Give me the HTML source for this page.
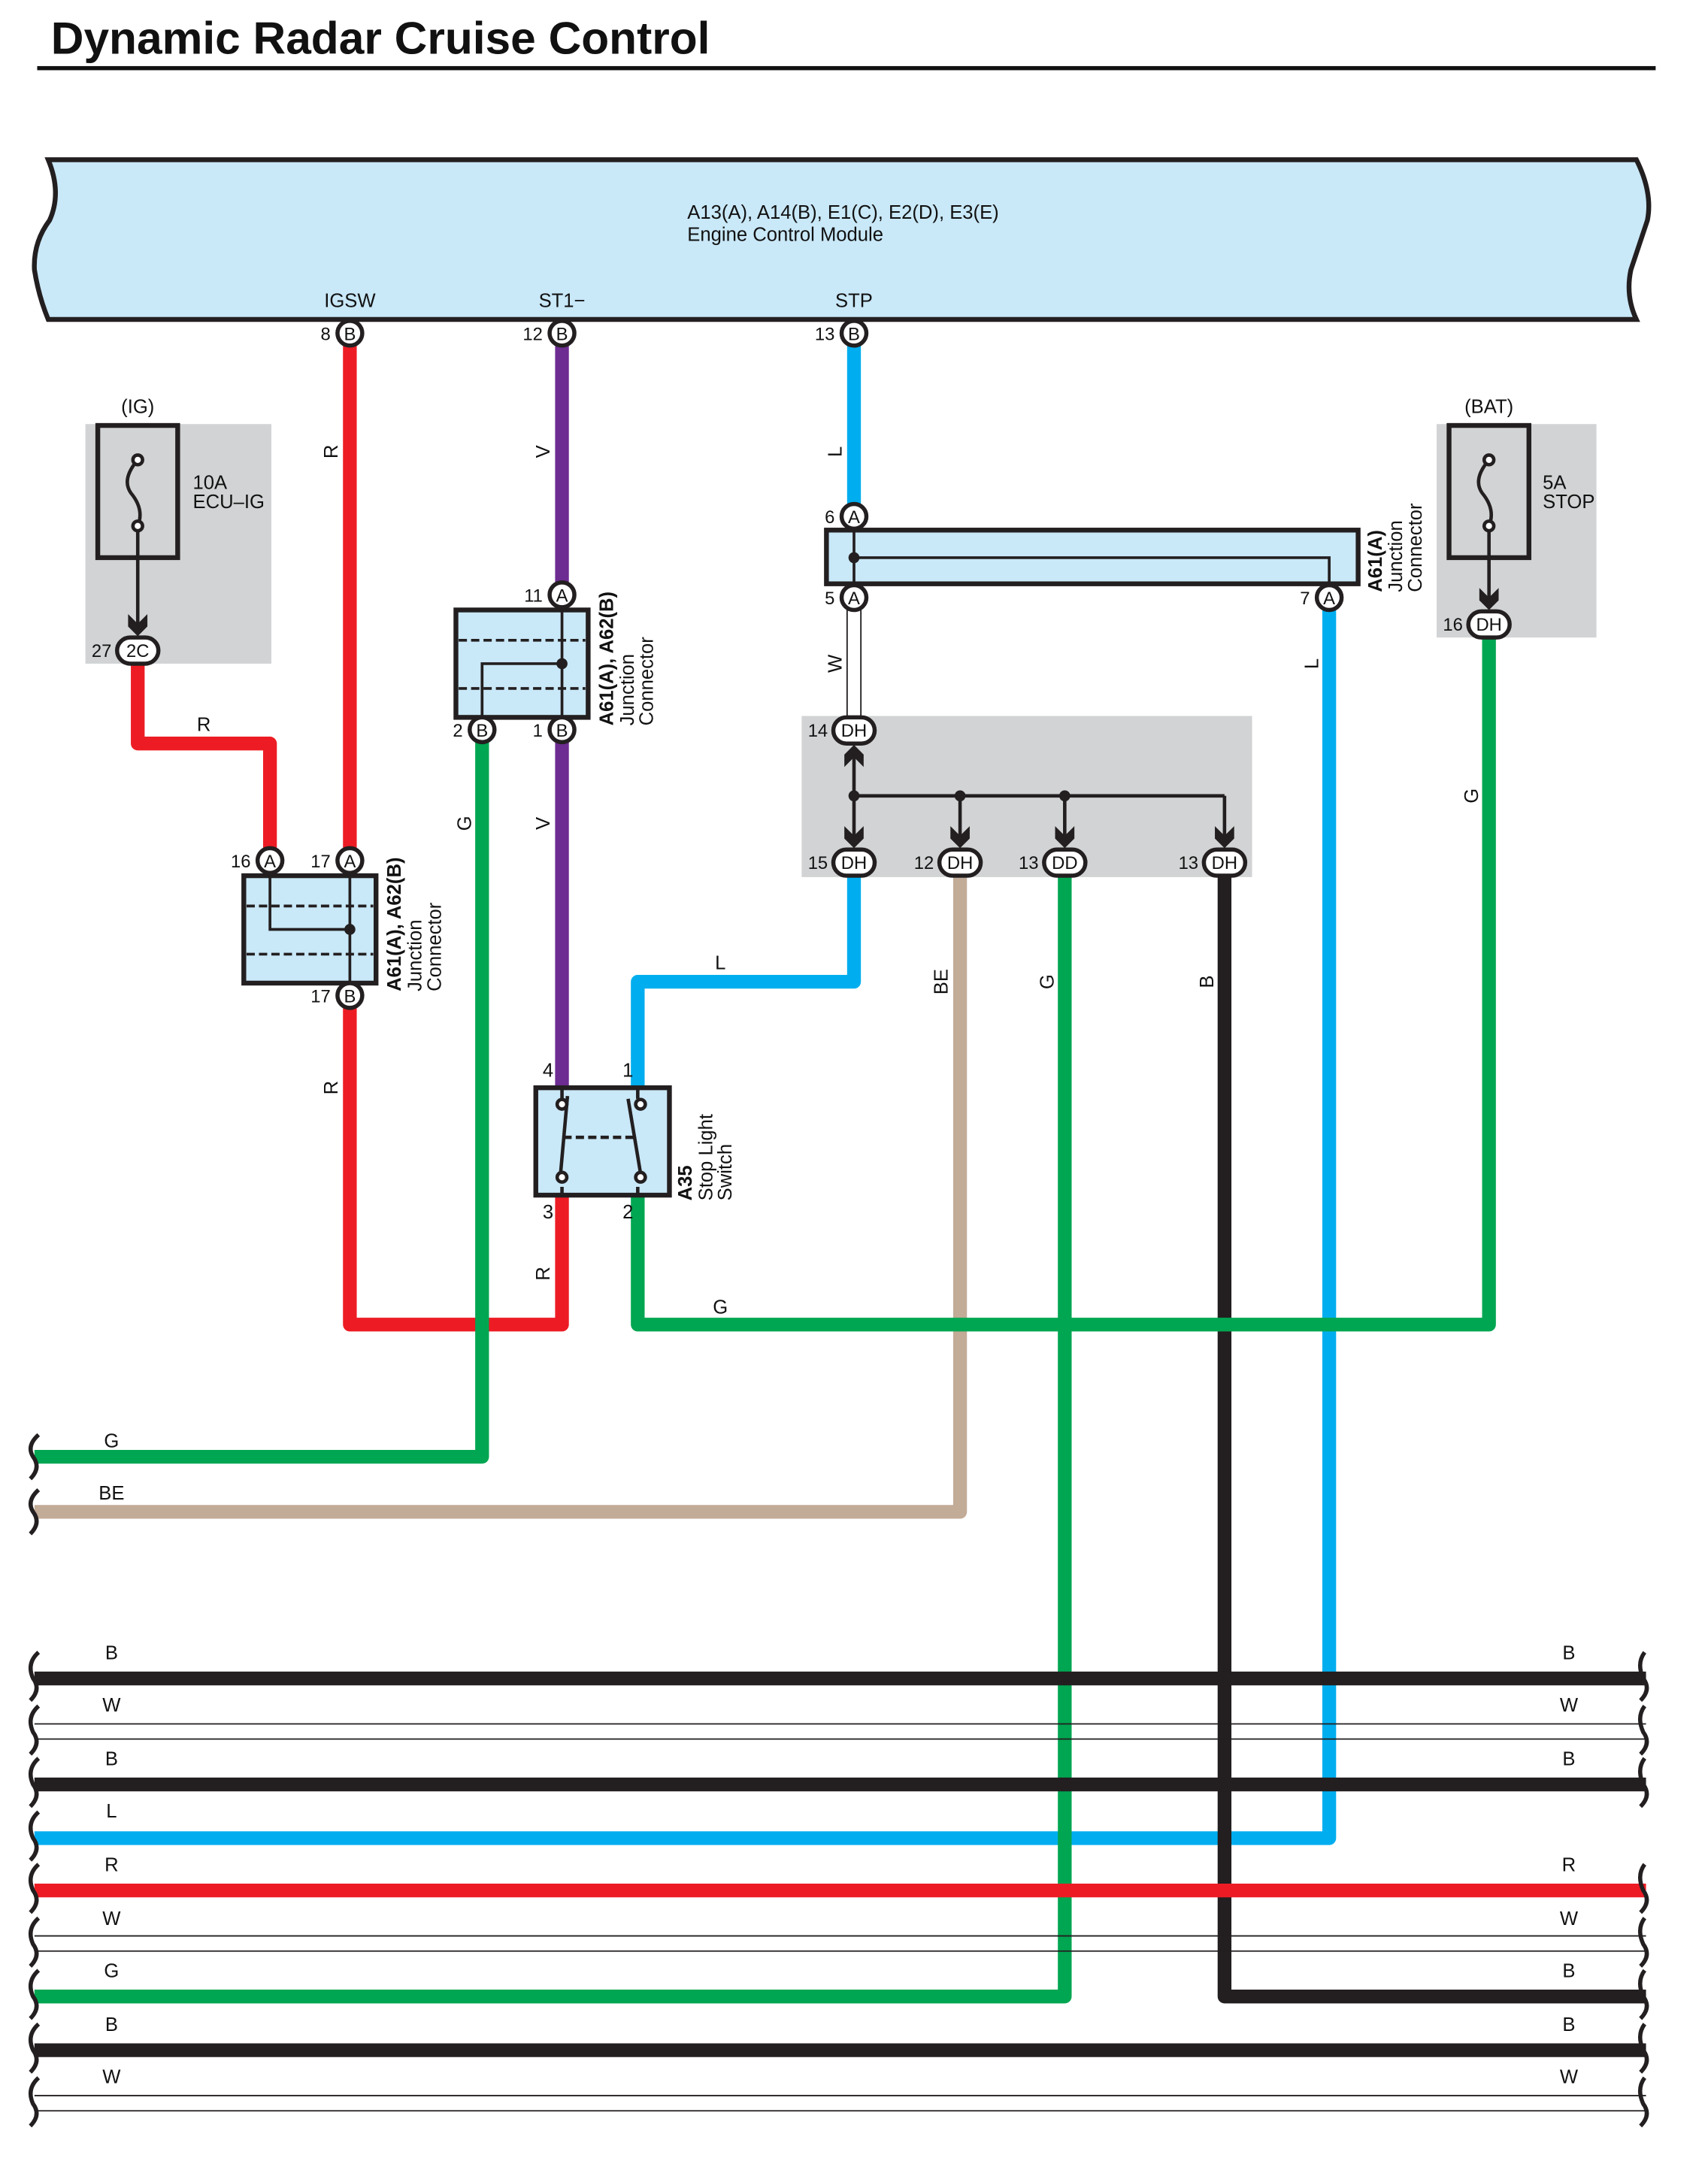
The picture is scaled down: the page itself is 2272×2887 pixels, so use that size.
<!DOCTYPE html>
<html><head><meta charset="utf-8"><style>html,body{margin:0;padding:0;background:#fff}svg{display:block}</style></head><body>
<svg xmlns="http://www.w3.org/2000/svg" width="2272" height="2887" viewBox="0 0 1240 1576" preserveAspectRatio="none" font-family="Liberation Sans, sans-serif">
<rect width="1240" height="1576" fill="#fff"/>
<text x="37" y="39" font-size="33" font-weight="bold" fill="#111">Dynamic Radar Cruise Control</text>
<rect x="27" y="48" width="1175" height="3" fill="#111"/>
<!-- ECM -->
<path d="M35,116 L1188,116 Q1200,140 1196,160 Q1190,178 1184,196 Q1180,215 1188,232 L35,232 Q28,215 25,196 Q24,176 36,160 Q45,140 35,116Z" fill="#c9e8f8" stroke="#231f20" stroke-width="3.5"/>
<text x="499" y="159" font-size="14" fill="#111">A13(A), A14(B), E1(C), E2(D), E3(E)</text>
<text x="499" y="175" font-size="14" fill="#111">Engine Control Module</text>
<g font-size="14" fill="#111" text-anchor="middle"><text x="254" y="223">IGSW</text><text x="408" y="223">ST1−</text><text x="620" y="223">STP</text></g>
<!-- gray regions -->
<rect x="62" y="308" width="135" height="174" fill="#d1d3d4"/>
<rect x="1043" y="308" width="116" height="155" fill="#d1d3d4"/>
<rect x="582" y="520" width="327" height="117" fill="#d1d3d4"/>
<!-- wires -->
<g fill="none" stroke-width="10" stroke-linejoin="round">
<path d="M254,242 V962 H408 V868" stroke="#ed1c24"/>
<path d="M100,472 V540 H196 V625" stroke="#ed1c24"/>
<path d="M408,242 V432 M408,530 V790" stroke="#6d2c91"/>
<path d="M620,242 V375" stroke="#00aeef"/>
<path d="M620,626 V713 H463 V790" stroke="#00aeef"/>
<path d="M965,434 V1335 H25" stroke="#00aeef"/>
<path d="M697,626 V1098 H25" stroke="#c2ab97"/>
<path d="M773,626 V1450 H25" stroke="#00a651"/>
<path d="M889,626 V1450 H1195" stroke="#231f20"/>
<path d="M350,530 V1058 H25" stroke="#00a651"/>
<path d="M463,868 V962 H1081 V453" stroke="#00a651"/>
<path d="M25,1219 H1195 M25,1296 H1195 M25,1489 H1195" stroke="#231f20"/>
<path d="M25,1373 H1195" stroke="#ed1c24"/>
</g>
<g stroke="#231f20" stroke-width="1">
<path d="M615,434 V530 M625,434 V530"/>
<path d="M25,1252 H1195 M25,1263 H1195 M25,1406 H1195 M25,1417 H1195 M25,1522 H1195 M25,1533 H1195"/>
</g>
<!-- wavy breaks -->
<g fill="none" stroke="#231f20" stroke-width="3">
<path d="M28,1042 q-9,8 -4,16 q6,8 -2,16 M28,1082 q-9,8 -4,16 q6,8 -2,16"/>
<path d="M28,1200 q-9,8 -4,19 q6,8 -2,16 M28,1239 q-9,8 -4,19 q6,8 -2,16 M28,1277 q-9,8 -4,19 q6,8 -2,16 M28,1316 q-9,8 -4,19 q6,8 -2,16 M28,1354 q-9,8 -4,19 q6,8 -2,16 M28,1393 q-9,8 -4,19 q6,8 -2,16 M28,1431 q-9,8 -4,19 q6,8 -2,16 M28,1470 q-9,8 -4,19 q6,8 -2,16 M28,1509 q-9,8 -4,19 q6,8 -2,16"/>
<path d="M1194,1200 q-6,8 -1,19 q6,8 -2,16 M1194,1239 q-6,8 -1,19 q6,8 -2,16 M1194,1277 q-6,8 -1,19 q6,8 -2,16 M1194,1354 q-6,8 -1,19 q6,8 -2,16 M1194,1393 q-6,8 -1,19 q6,8 -2,16 M1194,1431 q-6,8 -1,19 q6,8 -2,16 M1194,1470 q-6,8 -1,19 q6,8 -2,16 M1194,1509 q-6,8 -1,19 q6,8 -2,16"/>
</g>
<!-- bottom labels -->
<g font-size="14" fill="#111" text-anchor="middle">
<text x="81" y="1205">B</text><text x="81" y="1243">W</text><text x="81" y="1282">B</text><text x="81" y="1320">L</text><text x="81" y="1359">R</text><text x="81" y="1398">W</text><text x="81" y="1436">G</text><text x="81" y="1475">B</text><text x="81" y="1513">W</text>
<text x="1139" y="1205">B</text><text x="1139" y="1243">W</text><text x="1139" y="1282">B</text><text x="1139" y="1359">R</text><text x="1139" y="1398">W</text><text x="1139" y="1436">B</text><text x="1139" y="1475">B</text><text x="1139" y="1513">W</text>
<text x="81" y="1051">G</text><text x="81" y="1089">BE</text>
<text x="148" y="531">R</text><text x="523" y="704">L</text><text x="523" y="954">G</text>
</g>
<!-- rotated wire labels -->
<g font-size="14" fill="#111" text-anchor="middle">
<text transform="translate(245,328) rotate(-90)">R</text>
<text transform="translate(399,328) rotate(-90)">V</text>
<text transform="translate(611,328) rotate(-90)">L</text>
<text transform="translate(611,482) rotate(-90)">W</text>
<text transform="translate(957,482) rotate(-90)">L</text>
<text transform="translate(1073,578) rotate(-90)">G</text>
<text transform="translate(342,598) rotate(-90)">G</text>
<text transform="translate(399,598) rotate(-90)">V</text>
<text transform="translate(245,790) rotate(-90)">R</text>
<text transform="translate(399,925) rotate(-90)">R</text>
<text transform="translate(688,713) rotate(-90)">BE</text>
<text transform="translate(765,713) rotate(-90)">G</text>
<text transform="translate(881,713) rotate(-90)">B</text>
</g>
<!-- fuses -->
<g stroke="#231f20" stroke-width="3.5" fill="none">
<rect x="71" y="309" width="58" height="96"/>
<rect x="1052" y="309" width="58" height="96"/>
</g>
<g stroke="#231f20" stroke-width="2.5" fill="none">
<path d="M100,334 q-12,14 -5,24 q10,12 5,24"/><circle cx="100" cy="334" r="3.5" fill="#fff"/><circle cx="100" cy="382" r="3.5" fill="#fff"/>
<path d="M100,386 V455"/>
<path d="M1081,334 q-12,14 -5,24 q10,12 5,24"/><circle cx="1081" cy="334" r="3.5" fill="#fff"/><circle cx="1081" cy="382" r="3.5" fill="#fff"/>
<path d="M1081,386 V436"/>
</g>
<!-- arrowheads -->
<g fill="#231f20">
<path d="M93,446 L100,453 L107,446 L107,455 L100,462 L93,455Z"/>
<path d="M1074,427 L1081,434 L1088,427 L1088,436 L1081,443 L1074,436Z"/>
<path d="M613,600 L620,607 L627,600 L627,609 L620,616 L613,609Z"/>
<path d="M690,600 L697,607 L704,600 L704,609 L697,616 L690,609Z"/>
<path d="M766,600 L773,607 L780,600 L780,609 L773,616 L766,609Z"/>
<path d="M882,600 L889,607 L896,600 L896,609 L889,616 L882,609Z"/>
<path d="M613,557 L620,550 L627,557 L627,548 L620,541 L613,548Z"/>
</g>
<g font-size="14" fill="#111">
<text x="140" y="355">10A</text><text x="140" y="369">ECU–IG</text>
<text x="1120" y="355">5A</text><text x="1120" y="369">STOP</text>
<text x="100" y="300" text-anchor="middle">(IG)</text><text x="1081" y="300" text-anchor="middle">(BAT)</text>
</g>
<!-- junction connector bar A61 -->
<rect x="600" y="385" width="386" height="39" fill="#c9e8f8" stroke="#231f20" stroke-width="3.5"/>
<path d="M620,385 V424 M620,405 H965 V424" stroke="#231f20" stroke-width="2" fill="none"/>
<circle cx="620" cy="405" r="4" fill="#231f20"/>
<g font-size="14" fill="#111"><text transform="translate(1003,430) rotate(-90)" font-weight="bold">A61(A)</text><text transform="translate(1018,430) rotate(-90)">Junction</text><text transform="translate(1032,430) rotate(-90)">Connector</text></g>
<!-- junction box 1 -->
<rect x="331" y="443" width="96" height="78" fill="#c9e8f8" stroke="#231f20" stroke-width="3.5"/>
<path d="M333,465 H425 M333,500 H425" stroke="#231f20" stroke-width="2" stroke-dasharray="6,3"/>
<path d="M408,443 V521 M408,482 H350 V521" stroke="#231f20" stroke-width="2" fill="none"/>
<circle cx="408" cy="482" r="4" fill="#231f20"/>
<g font-size="14" fill="#111"><text transform="translate(445,527) rotate(-90)" font-weight="bold">A61(A), A62(B)</text><text transform="translate(460,527) rotate(-90)">Junction</text><text transform="translate(474,527) rotate(-90)">Connector</text></g>
<!-- junction box 2 -->
<rect x="177" y="636" width="96" height="78" fill="#c9e8f8" stroke="#231f20" stroke-width="3.5"/>
<path d="M179,658 H271 M179,693 H271" stroke="#231f20" stroke-width="2" stroke-dasharray="6,3"/>
<path d="M254,636 V714 M196,636 V675 H254" stroke="#231f20" stroke-width="2" fill="none"/>
<circle cx="254" cy="675" r="4" fill="#231f20"/>
<g font-size="14" fill="#111"><text transform="translate(291,720) rotate(-90)" font-weight="bold">A61(A), A62(B)</text><text transform="translate(306,720) rotate(-90)">Junction</text><text transform="translate(320,720) rotate(-90)">Connector</text></g>
<!-- switch -->
<rect x="389" y="790" width="97" height="78" fill="#c9e8f8" stroke="#231f20" stroke-width="3.5"/>
<g stroke="#231f20" stroke-width="2.5" fill="none">
<path d="M408,790 V798 M463,790 V798 M408,862 V868 M463,862 V868"/>
<path d="M412,796 L407,852 M456,798 L465,852"/>
<path d="M409,826 H461" stroke-dasharray="6,3"/>
<circle cx="408" cy="802" r="3.5" fill="#fff"/><circle cx="465" cy="802" r="3.5" fill="#fff"/>
<circle cx="408" cy="855" r="3.5" fill="#fff"/><circle cx="465" cy="855" r="3.5" fill="#fff"/>
</g>
<g font-size="14" fill="#111"><text transform="translate(502,872) rotate(-90)" font-weight="bold">A35</text><text transform="translate(517,872) rotate(-90)">Stop Light</text><text transform="translate(531,872) rotate(-90)">Switch</text>
<text x="394" y="782">4</text><text x="452" y="782">1</text><text x="394" y="885">3</text><text x="452" y="885">2</text></g>
<!-- gray connector DH internals -->
<g stroke="#231f20" stroke-width="2.5" fill="none">
<path d="M620,548 V608 M697,578 V608 M773,578 V608 M889,578 V608"/>
<path d="M620,578 H889"/>
</g>
<circle cx="620" cy="578" r="4" fill="#231f20"/><circle cx="697" cy="578" r="4" fill="#231f20"/><circle cx="773" cy="578" r="4" fill="#231f20"/>
<!-- pins -->
<g stroke="#231f20" stroke-width="3" fill="#fff">
<circle cx="254" cy="242" r="9"/><circle cx="408" cy="242" r="9"/><circle cx="620" cy="242" r="9"/>
<circle cx="620" cy="375" r="9"/><circle cx="620" cy="434" r="9"/><circle cx="965" cy="434" r="9"/>
<circle cx="408" cy="432" r="9"/><circle cx="350" cy="530" r="9"/><circle cx="408" cy="530" r="9"/>
<circle cx="196" cy="625" r="9"/><circle cx="254" cy="625" r="9"/><circle cx="254" cy="723" r="9"/>
<rect x="85" y="463" width="30" height="19" rx="9.5"/>
<rect x="1066" y="444" width="30" height="19" rx="9.5"/>
<rect x="605" y="521" width="30" height="19" rx="9.5"/>
<rect x="605" y="617" width="30" height="19" rx="9.5"/>
<rect x="682" y="617" width="30" height="19" rx="9.5"/>
<rect x="758" y="617" width="30" height="19" rx="9.5"/>
<rect x="874" y="617" width="30" height="19" rx="9.5"/>
</g>
<g font-size="13" fill="#111" text-anchor="middle">
<text x="254" y="247">B</text><text x="408" y="247">B</text><text x="620" y="247">B</text>
<text x="620" y="380">A</text><text x="620" y="439">A</text><text x="965" y="439">A</text>
<text x="408" y="437">A</text><text x="350" y="535">B</text><text x="408" y="535">B</text>
<text x="196" y="630">A</text><text x="254" y="630">A</text><text x="254" y="728">B</text>
<text x="100" y="477">2C</text><text x="1081" y="458">DH</text><text x="620" y="535">DH</text>
<text x="620" y="631">DH</text><text x="697" y="631">DH</text><text x="773" y="631">DD</text><text x="889" y="631">DH</text>
</g>
<g font-size="13" fill="#111" text-anchor="end">
<text x="240" y="247">8</text><text x="394" y="247">12</text><text x="606" y="247">13</text>
<text x="606" y="380">6</text><text x="606" y="439">5</text><text x="951" y="439">7</text>
<text x="394" y="437">11</text><text x="336" y="535">2</text><text x="394" y="535">1</text>
<text x="182" y="630">16</text><text x="240" y="630">17</text><text x="240" y="728">17</text>
<text x="81" y="477">27</text><text x="1062" y="458">16</text><text x="601" y="535">14</text>
<text x="601" y="631">15</text><text x="678" y="631">12</text><text x="754" y="631">13</text><text x="870" y="631">13</text>
</g>
</svg>
</body></html>
